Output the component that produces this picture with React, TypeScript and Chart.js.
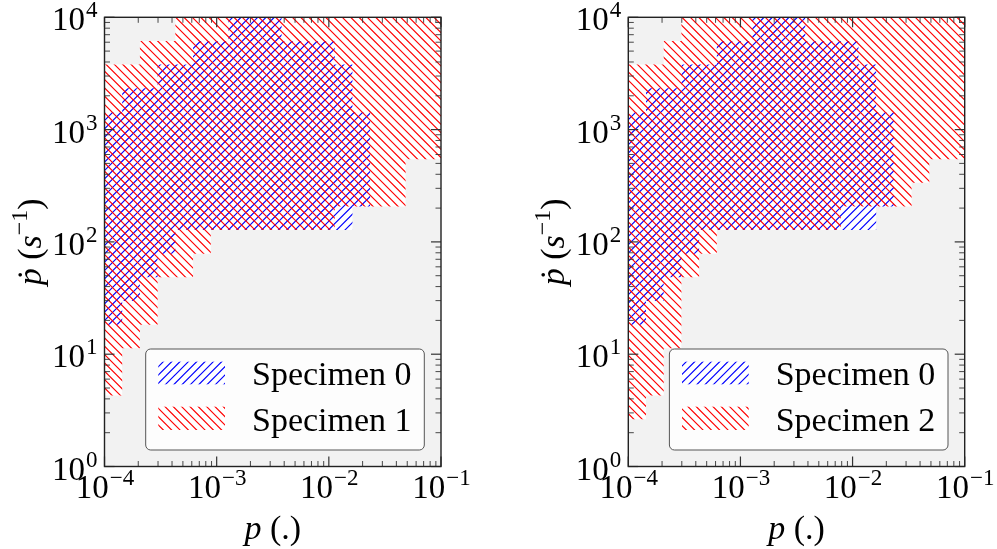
import React, { useEffect, useRef } from 'react';
import { Chart, registerables } from 'chart.js';

Chart.register(...registerables);

// Bin edges of the 19 x 19 log grid (p from 1e-4 to 1e-1)
const X_EDGES = [
  1.0e-4, 1.438e-4, 2.069e-4, 2.976e-4, 4.281e-4, 6.158e-4, 8.859e-4, 1.274e-3,
  1.833e-3, 2.637e-3, 3.793e-3, 5.456e-3, 7.848e-3, 1.129e-2, 1.624e-2, 2.336e-2,
  3.36e-2, 4.833e-2, 6.952e-2, 1.0e-1,
];

// Per-column lower / upper pdot bounds of each specimen region
const SPEC0_LOWER = [18.33, 29.76, 48.33, 78.48, 127.4, 127.4, 127.4, 127.4, 127.4, 127.4, 127.4, 127.4, 127.4, 127.4, 206.9];
const SPEC0_UPPER = [1438, 2336, 2336, 3793, 3793, 6158, 6158, 10000, 10000, 10000, 6158, 6158, 6158, 3793, 1438];

const SPEC1_LOWER = [4.281, 11.29, 18.33, 48.33, 48.33, 78.48, 127.4, 127.4, 127.4, 127.4, 127.4, 127.4, 127.4, 206.9, 206.9, 206.9, 206.9, 545.6, 545.6];
const SPEC1_UPPER = [3793, 3793, 6158, 6158, 10000, 10000, 10000, 10000, 10000, 10000, 10000, 10000, 10000, 10000, 10000, 10000, 10000, 10000, 10000];

const SPEC2_LOWER = [2.637, 4.281, 11.29, 48.33, 78.48, 127.4, 127.4, 127.4, 127.4, 127.4, 127.4, 127.4, 206.9, 206.9, 206.9, 206.9, 336.0, 545.6, 545.6];
const SPEC2_UPPER = [3793, 3793, 6158, 10000, 10000, 10000, 10000, 10000, 10000, 10000, 10000, 10000, 10000, 10000, 10000, 10000, 10000, 10000, 10000];

const LEGEND_LEFT = ['Specimen 0', 'Specimen 1'];
const LEGEND_RIGHT = ['Specimen 0', 'Specimen 2'];

const X_TICKS = [1e-4, 1e-3, 1e-2, 1e-1];
const X_TICK_EXP = ['\u22124', '\u22123', '\u22122', '\u22121'];
const Y_TICKS = [1, 10, 100, 1000, 10000];
const Y_TICK_EXP = ['0', '1', '2', '3', '4'];
const MINOR_MULT = [2, 3, 4, 5, 6, 7, 8, 9];

const FONT = "'Liberation Serif', 'DejaVu Serif', serif";
const FS = 33;
const SFS = 23;
const LFS = 34;
const BG_GRAY = '#f2f2f2';
const BLUE = '#0000ff';
const RED = '#ff0000';

function makeHatch(color: string, dir: 'ne' | 'nw'): CanvasPattern {
  const T = 25;
  const c = document.createElement('canvas');
  c.width = T;
  c.height = T;
  const g = c.getContext('2d')!;
  g.strokeStyle = color;
  g.lineWidth = 1.15;
  const s = T / 3;
  g.beginPath();
  for (let i = -6; i <= 9; i++) {
    const o = i * s;
    if (dir === 'nw') {
      g.moveTo(o - 2, -2);
      g.lineTo(o + T + 2, T + 2);
    } else {
      g.moveTo(o + 2, -2);
      g.lineTo(o - T - 2, T + 2);
    }
  }
  g.stroke();
  return g.createPattern(c, 'repeat')!;
}

function outline(lower: number[], upper: number[]) {
  const pts: { x: number; y: number }[] = [];
  for (let k = 0; k < upper.length; k++) {
    pts.push({ x: X_EDGES[k], y: upper[k] });
    pts.push({ x: X_EDGES[k + 1], y: upper[k] });
  }
  for (let k = lower.length - 1; k >= 0; k--) {
    pts.push({ x: X_EDGES[k + 1], y: lower[k] });
    pts.push({ x: X_EDGES[k], y: lower[k] });
  }
  return pts;
}

function drawPow(ctx: CanvasRenderingContext2D, base: string, exp: string, x: number, y: number, align: 'center' | 'right') {
  ctx.font = `${FS}px ${FONT}`;
  const w1 = ctx.measureText(base).width;
  ctx.font = `${SFS}px ${FONT}`;
  const w2 = ctx.measureText(exp).width;
  const total = w1 + w2;
  const left = align === 'center' ? x - total / 2 : x - total;
  ctx.textAlign = 'left';
  ctx.textBaseline = 'alphabetic';
  ctx.font = `${FS}px ${FONT}`;
  ctx.fillText(base, left, y);
  ctx.font = `${SFS}px ${FONT}`;
  ctx.fillText(exp, left + w1 + 1, y - 13);
}

type Piece = { t: string; italic?: boolean; sup?: boolean };

function drawPieces(ctx: CanvasRenderingContext2D, pieces: Piece[], cx: number, baseline: number, dotFirst: boolean) {
  const fontOf = (p: Piece) => `${p.italic ? 'italic ' : ''}${p.sup ? 24 : LFS}px ${FONT}`;
  const widths = pieces.map((p) => {
    ctx.font = fontOf(p);
    return ctx.measureText(p.t).width;
  });
  const total = widths.reduce((a, b) => a + b, 0);
  let x = cx - total / 2;
  ctx.textAlign = 'left';
  ctx.textBaseline = 'alphabetic';
  pieces.forEach((p, i) => {
    ctx.font = fontOf(p);
    ctx.fillText(p.t, x, p.sup ? baseline - 14 : baseline);
    if (i === 0 && dotFirst) {
      ctx.font = `${LFS}px ${FONT}`;
      const dw = ctx.measureText('\u02D9').width;
      ctx.fillText('\u02D9', x + widths[0] / 2 - dw / 2 + 2, baseline);
    }
    x += widths[i];
  });
}

function makeChart(
  canvas: HTMLCanvasElement,
  redLower: number[],
  redUpper: number[],
  legendLabels: string[],
  padding: { left: number; right: number; top: number; bottom: number },
  yLabelOffset: number,
) {
  const blueHatch = makeHatch(BLUE, 'ne');
  const redHatch = makeHatch(RED, 'nw');
  const blueShape = outline(SPEC0_LOWER, SPEC0_UPPER);
  const redShape = outline(redLower, redUpper);

  const base = {
    borderColor: 'rgba(0,0,0,0)',
    borderWidth: 0,
    pointRadius: 0,
    pointHoverRadius: 0,
    fill: 'shape' as const,
    tension: 0,
  };

  const decor = {
    id: 'panelDecor',
    beforeDraw(chart: any) {
      const { ctx, chartArea: a } = chart;
      ctx.save();
      ctx.fillStyle = '#ffffff';
      ctx.fillRect(0, 0, chart.width, chart.height);
      ctx.fillStyle = BG_GRAY;
      ctx.fillRect(a.left, a.top, a.right - a.left, a.bottom - a.top);
      ctx.restore();
    },
    afterDraw(chart: any) {
      const { ctx, chartArea: a } = chart;
      const xs = chart.scales.x;
      const ys = chart.scales.y;
      ctx.save();

      // legend
      const bl = a.right - 295.3;
      const br = a.right - 16.7;
      const bt = a.bottom - 117.5;
      const bb = a.bottom - 16.5;
      ctx.beginPath();
      ctx.roundRect(bl, bt, br - bl, bb - bt, 5);
      ctx.fillStyle = 'rgba(255,255,255,0.8)';
      ctx.fill();
      ctx.lineWidth = 1;
      ctx.strokeStyle = '#555555';
      ctx.stroke();
      const patches = [
        { top: bt + 12.7, bottom: bt + 35.3, pat: blueHatch },
        { top: bt + 57.7, bottom: bt + 81, pat: redHatch },
      ];
      patches.forEach((p, i) => {
        ctx.fillStyle = '#ffffff';
        ctx.fillRect(bl + 12.6, p.top, 66.7, p.bottom - p.top);
        ctx.fillStyle = p.pat;
        ctx.fillRect(bl + 12.6, p.top, 66.7, p.bottom - p.top);
        ctx.fillStyle = '#000000';
        ctx.font = `${LFS}px ${FONT}`;
        ctx.textAlign = 'left';
        ctx.textBaseline = 'alphabetic';
        ctx.fillText(legendLabels[i], bl + 106.3, p.bottom + 0.5);
      });

      // ticks
      ctx.strokeStyle = '#333333';
      const tick = (x1: number, y1: number, x2: number, y2: number, w: number) => {
        ctx.lineWidth = w;
        ctx.beginPath();
        ctx.moveTo(x1, y1);
        ctx.lineTo(x2, y2);
        ctx.stroke();
      };
      X_TICKS.forEach((v, i) => {
        const px = xs.getPixelForValue(v);
        tick(px, a.bottom, px, a.bottom - 10, 1.2);
        tick(px, a.top, px, a.top + 10, 1.2);
        if (i < X_TICKS.length - 1) {
          MINOR_MULT.forEach((m) => {
            const qx = xs.getPixelForValue(v * m);
            tick(qx, a.bottom, qx, a.bottom - 5.5, 0.9);
            tick(qx, a.top, qx, a.top + 5.5, 0.9);
          });
        }
      });
      Y_TICKS.forEach((v, i) => {
        const py = ys.getPixelForValue(v);
        tick(a.left, py, a.left + 10, py, 1.2);
        tick(a.right, py, a.right - 10, py, 1.2);
        if (i < Y_TICKS.length - 1) {
          MINOR_MULT.forEach((m) => {
            const qy = ys.getPixelForValue(v * m);
            tick(a.left, qy, a.left + 5.5, qy, 0.9);
            tick(a.right, qy, a.right - 5.5, qy, 0.9);
          });
        }
      });

      // frame
      ctx.lineWidth = 1.4;
      ctx.strokeStyle = '#222222';
      ctx.strokeRect(a.left, a.top, a.right - a.left, a.bottom - a.top);

      // tick labels
      ctx.fillStyle = '#000000';
      X_TICKS.forEach((v, i) => {
        drawPow(ctx, '10', X_TICK_EXP[i], xs.getPixelForValue(v), a.bottom + 31, 'center');
      });
      Y_TICKS.forEach((v, i) => {
        drawPow(ctx, '10', Y_TICK_EXP[i], a.left - 8, ys.getPixelForValue(v) + 13, 'right');
      });

      // axis labels
      drawPieces(ctx, [{ t: 'p', italic: true }, { t: ' (.)' }], (a.left + a.right) / 2, a.bottom + 72, false);
      ctx.save();
      ctx.translate(a.left - yLabelOffset, (a.top + a.bottom) / 2);
      ctx.rotate(-Math.PI / 2);
      drawPieces(
        ctx,
        [
          { t: 'p', italic: true },
          { t: ' (' },
          { t: 's', italic: true },
          { t: '\u22121', sup: true },
          { t: ')' },
        ],
        0,
        0,
        true,
      );
      ctx.restore();

      ctx.restore();
    },
  };

  return new Chart(canvas, {
    type: 'line',
    data: {
      datasets: [
        { ...base, data: redShape, backgroundColor: '#ffffff', order: 20 },
        { ...base, data: blueShape, backgroundColor: '#ffffff', order: 19 },
        { ...base, label: legendLabels[0], data: blueShape, backgroundColor: blueHatch, order: 10 },
        { ...base, label: legendLabels[1], data: redShape, backgroundColor: redHatch, order: 1 },
      ],
    },
    options: {
      animation: false,
      responsive: false,
      maintainAspectRatio: false,
      devicePixelRatio: 1,
      events: [],
      layout: { padding },
      scales: {
        x: { type: 'logarithmic', min: 1e-4, max: 1e-1, display: false },
        y: { type: 'logarithmic', min: 1, max: 1e4, display: false },
      },
      plugins: {
        legend: { display: false },
        tooltip: { enabled: false },
      },
    },
    plugins: [decor],
  } as any);
}

export default function App() {
  const ref1 = useRef<HTMLCanvasElement>(null);
  const ref2 = useRef<HTMLCanvasElement>(null);

  useEffect(() => {
    const c1 = makeChart(ref1.current!, SPEC1_LOWER, SPEC1_UPPER, LEGEND_LEFT,
      { left: 104.5, right: 57, top: 17.3, bottom: 82.5 }, 64);
    const c2 = makeChart(ref2.current!, SPEC2_LOWER, SPEC2_UPPER, LEGEND_RIGHT,
      { left: 130.3, right: 32.3, top: 17.3, bottom: 82.5 }, 64);
    return () => {
      c1.destroy();
      c2.destroy();
    };
  }, []);

  return (
    <div style={{ position: 'fixed', left: 0, top: 0, width: 997, height: 549, background: '#ffffff' }}>
      <canvas ref={ref1} width={498} height={549} style={{ position: 'absolute', left: 0, top: 0, width: 498, height: 549 }} />
      <canvas ref={ref2} width={499} height={549} style={{ position: 'absolute', left: 498, top: 0, width: 499, height: 549 }} />
    </div>
  );
}
